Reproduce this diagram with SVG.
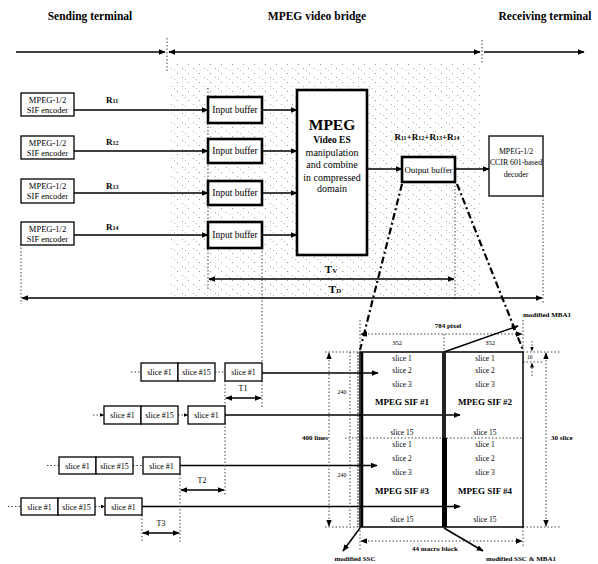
<svg xmlns="http://www.w3.org/2000/svg" width="598" height="564" viewBox="0 0 598 564">
<style>
text{font-family:"Liberation Serif","Times New Roman",serif;fill:#000}
.hd{font-size:11.5px;font-weight:bold;text-anchor:middle}
.c{text-anchor:middle}
.b{font-weight:bold}
.box{fill:#fff;stroke:#000;stroke-width:1.3}
.tbox{fill:#fff;stroke:#000;stroke-width:2.6}
.ln{stroke:#000;stroke-width:1.5;fill:none}
.dot{stroke:#444;stroke-width:1;stroke-dasharray:1.5 2;fill:none}
.dd{stroke:#000;stroke-width:2.2;stroke-dasharray:7 3 2 3;fill:none}
.sl{font-size:8px;text-anchor:middle}
.gt{font-size:7.5px;text-anchor:middle}
.sif{font-size:9px;font-weight:bold;text-anchor:middle}
.dim{font-size:7px;font-weight:bold}
</style>
<defs>
<marker id="ah" viewBox="0 0 10 10" refX="9" refY="5" markerWidth="7" markerHeight="7" orient="auto-start-reverse" markerUnits="userSpaceOnUse"><path d="M0,1 L10,5 L0,9 Z" fill="#000"/></marker>
<marker id="as" viewBox="0 0 10 10" refX="9" refY="5" markerWidth="5" markerHeight="5" orient="auto-start-reverse" markerUnits="userSpaceOnUse"><path d="M0,1 L10,5 L0,9 Z" fill="#000"/></marker>
<pattern id="stip" width="11" height="9" patternUnits="userSpaceOnUse"><rect x="1" y="1" width="1" height="1" fill="#999"/><rect x="6" y="5" width="1" height="1" fill="#aaa"/><rect x="9" y="7" width="1" height="1" fill="#bbb"/></pattern>
</defs>

<rect x="167" y="62" width="315" height="236" fill="url(#stip)"/>

<g id="headers">
<text class="hd" x="90" y="20">Sending terminal</text>
<text class="hd" x="317" y="20">MPEG video bridge</text>
<text class="hd" x="545" y="20">Receiving terminal</text>
</g>

<g id="connectors">
<line class="ln" x1="16" y1="52" x2="165" y2="52" marker-end="url(#ah)"/>
<line class="dot" x1="167" y1="38" x2="167" y2="72"/>
<line class="ln" x1="169" y1="52" x2="480" y2="52" marker-start="url(#ah)" marker-end="url(#ah)"/>
<line class="dot" x1="482" y1="40" x2="482" y2="64"/>
<line class="ln" x1="484" y1="52" x2="584" y2="52" marker-end="url(#ah)"/>

<line class="ln" x1="74" y1="110" x2="208" y2="110" marker-end="url(#ah)" stroke-width="2"/>
<line class="ln" x1="74" y1="151" x2="208" y2="151" marker-end="url(#ah)" stroke-width="2"/>
<line class="ln" x1="74" y1="193" x2="208" y2="193" marker-end="url(#ah)" stroke-width="2"/>
<line class="ln" x1="74" y1="235" x2="208" y2="235" marker-end="url(#ah)" stroke-width="2"/>
<line class="ln" x1="262" y1="110" x2="297" y2="110" marker-end="url(#ah)" stroke-width="2"/>
<line class="ln" x1="262" y1="151" x2="297" y2="151" marker-end="url(#ah)" stroke-width="2"/>
<line class="ln" x1="262" y1="193" x2="297" y2="193" marker-end="url(#ah)" stroke-width="2"/>
<line class="ln" x1="262" y1="235" x2="297" y2="235" marker-end="url(#ah)" stroke-width="2"/>
<line class="ln" x1="367" y1="169" x2="402" y2="169" marker-end="url(#ah)" stroke-width="2"/>
<line class="ln" x1="455" y1="169" x2="489" y2="169" marker-end="url(#ah)" stroke-width="2"/>

<line class="dot" x1="208" y1="88" x2="208" y2="290"/>
<line class="dot" x1="455" y1="182" x2="455" y2="300"/>
<line class="dot" x1="262" y1="248" x2="262" y2="408"/>
<line class="dot" x1="21" y1="244" x2="21" y2="304"/>
<line class="dot" x1="543" y1="196" x2="543" y2="304"/>
<line class="ln" x1="209" y1="279" x2="454" y2="279" marker-start="url(#ah)" marker-end="url(#ah)"/>
<line class="ln" x1="22" y1="298" x2="542" y2="298" marker-start="url(#ah)" marker-end="url(#ah)"/>

<line class="dd" x1="402" y1="184" x2="360" y2="350"/>
<line class="dd" x1="457" y1="184" x2="523" y2="350"/>

<line class="dot" x1="131" y1="372" x2="141" y2="372"/>
<line class="dot" x1="215" y1="372" x2="225" y2="372"/>
<line class="dot" x1="93" y1="415" x2="104" y2="415" marker-end="url(#as)"/>
<line class="dot" x1="178" y1="415" x2="188" y2="415" marker-end="url(#as)"/>
<line class="dot" x1="47" y1="465.5" x2="59" y2="465.5"/>
<line class="dot" x1="133" y1="465.5" x2="143" y2="465.5"/>
<line class="dot" x1="8" y1="506.5" x2="21" y2="506.5"/>
<line class="dot" x1="95" y1="506.5" x2="105" y2="506.5" marker-end="url(#as)"/>

<line class="ln" x1="262" y1="373" x2="378" y2="373" marker-end="url(#ah)"/>
<line class="ln" x1="225" y1="415" x2="460" y2="415" marker-end="url(#ah)"/>
<line class="ln" x1="180" y1="465.5" x2="377" y2="465.5" marker-end="url(#ah)"/>
<line class="ln" x1="142" y1="506.5" x2="460" y2="506.5" marker-end="url(#ah)"/>

<line class="dot" x1="225" y1="381" x2="225" y2="495"/>
<line class="dot" x1="180" y1="474" x2="180" y2="542"/>
<line class="dot" x1="142" y1="515" x2="142" y2="542"/>
<line class="ln" x1="226" y1="398" x2="261" y2="398" marker-start="url(#ah)" marker-end="url(#ah)"/>
<line class="ln" x1="181" y1="490" x2="224" y2="490" marker-start="url(#ah)" marker-end="url(#ah)"/>
<line class="ln" x1="143" y1="533" x2="179" y2="533" marker-start="url(#ah)" marker-end="url(#ah)"/>

<line class="dot" x1="360" y1="320" x2="360" y2="352"/>
<line class="dot" x1="523" y1="320" x2="523" y2="352"/>
<line class="dot" x1="444" y1="334" x2="444" y2="352"/>
<line class="dot" x1="361" y1="334" x2="522" y2="334" marker-start="url(#ah)" marker-end="url(#ah)"/>
<line class="ln" x1="444" y1="352" x2="518" y2="326" marker-end="url(#ah)"/>

<line class="dot" x1="325" y1="352" x2="360" y2="352"/>
<line class="dot" x1="325" y1="527" x2="360" y2="527"/>
<line class="dot" x1="329" y1="353" x2="329" y2="526" marker-start="url(#ah)" marker-end="url(#ah)"/>
<line class="dot" x1="350" y1="352" x2="350" y2="527"/>
<line class="dot" x1="345" y1="438" x2="523" y2="438"/>

<line class="dot" x1="523" y1="352" x2="560" y2="352"/>
<line class="dot" x1="523" y1="527" x2="560" y2="527"/>
<line class="dot" x1="546" y1="353" x2="546" y2="526" marker-start="url(#ah)" marker-end="url(#ah)"/>
<line class="dot" x1="532" y1="341" x2="532" y2="351" marker-end="url(#as)"/>
<line class="dot" x1="532" y1="376" x2="532" y2="363" marker-end="url(#as)"/>
<line class="dot" x1="523" y1="362" x2="542" y2="362"/>

<line class="dot" x1="360" y1="527" x2="360" y2="550"/>
<line class="dot" x1="523" y1="527" x2="523" y2="546"/>
<line class="dot" x1="361" y1="541" x2="522" y2="541" marker-start="url(#ah)" marker-end="url(#ah)"/>
<line class="ln" x1="360" y1="528" x2="343" y2="551" marker-end="url(#ah)"/>
<line class="ln" x1="444" y1="528" x2="483" y2="551" marker-end="url(#ah)"/>
</g>

<g id="encoder1"><rect class="box" x="21" y="93" width="53" height="23"/><text class="c" font-size="8.5" x="47.5" y="103">MPEG-1/2</text><text class="c" font-size="8.5" x="47.5" y="113">SIF encoder</text></g>
<g id="encoder2"><rect class="box" x="21" y="136" width="53" height="23"/><text class="c" font-size="8.5" x="47.5" y="146">MPEG-1/2</text><text class="c" font-size="8.5" x="47.5" y="156">SIF encoder</text></g>
<g id="encoder3"><rect class="box" x="21" y="179" width="53" height="24"/><text class="c" font-size="8.5" x="47.5" y="189">MPEG-1/2</text><text class="c" font-size="8.5" x="47.5" y="199">SIF encoder</text></g>
<g id="encoder4"><rect class="box" x="21" y="222" width="53" height="23"/><text class="c" font-size="8.5" x="47.5" y="232">MPEG-1/2</text><text class="c" font-size="8.5" x="47.5" y="242">SIF encoder</text></g>

<g id="rates" font-size="9" font-weight="bold">
<text x="106" y="103">R<tspan font-size="6">11</tspan></text>
<text x="106" y="145">R<tspan font-size="6">12</tspan></text>
<text x="106" y="189">R<tspan font-size="6">13</tspan></text>
<text x="106" y="230">R<tspan font-size="6">14</tspan></text>
<text x="427" y="140" class="c">R<tspan font-size="6">11</tspan>+R<tspan font-size="6">12</tspan>+R<tspan font-size="6">13</tspan>+R<tspan font-size="6">14</tspan></text>
</g>

<g id="inbuf1"><rect class="tbox" x="208" y="97" width="54" height="26"/><text class="c" font-size="9.5" x="235" y="113">Input buffer</text></g>
<g id="inbuf2"><rect class="tbox" x="208" y="139" width="54" height="24"/><text class="c" font-size="9.5" x="235" y="154">Input buffer</text></g>
<g id="inbuf3"><rect class="tbox" x="208" y="181" width="54" height="24"/><text class="c" font-size="9.5" x="235" y="196">Input buffer</text></g>
<g id="inbuf4"><rect class="tbox" x="208" y="222" width="54" height="26"/><text class="c" font-size="9.5" x="235" y="238">Input buffer</text></g>

<g id="mpeg"><rect class="tbox" x="297" y="90" width="70" height="165" stroke-width="3"/>
<text class="c b" font-size="15.5" x="332" y="130">MPEG</text>
<text class="c b" font-size="9.5" x="332" y="143">Video ES</text>
<text class="c" font-size="10" x="332" y="155.5">manipulation</text>
<text class="c" font-size="10" x="332" y="168">and combine</text>
<text class="c" font-size="10" x="332" y="180.5">in compressed</text>
<text class="c" font-size="10" x="332" y="192">domain</text>
</g>

<g id="outbuf"><rect class="tbox" x="402" y="157" width="53" height="25"/><text class="c" font-size="8.8" x="428.5" y="172.5">Output buffer</text></g>

<g id="decoder"><rect class="box" x="489" y="136" width="54" height="60"/>
<text class="c" font-size="7.8" fill="#333" x="516" y="154">MPEG-1/2</text>
<text class="c" font-size="7.8" fill="#333" x="516" y="165">CCIR 601-based</text>
<text class="c" font-size="7.8" fill="#333" x="516" y="177">decoder</text>
</g>

<g id="delays" font-weight="bold" font-size="11">
<text class="c" x="331" y="273">T<tspan font-size="7">V</tspan></text>
<text class="c" x="335" y="293">T<tspan font-size="7">D</tspan></text>
</g>

<g id="row1"><rect class="box" x="141" y="363" width="37" height="18"/><rect class="box" x="178" y="363" width="37" height="18"/><rect class="box" x="225" y="363" width="37" height="18"/>
<text class="sl" x="159.5" y="375">slice #1</text><text class="sl" x="196.5" y="375">slice #15</text><text class="sl" x="243.5" y="375">slice #1</text></g>
<g id="row2"><rect class="box" x="104" y="406" width="37" height="18"/><rect class="box" x="141" y="406" width="37" height="18"/><rect class="box" x="188" y="406" width="37" height="18"/>
<text class="sl" x="122.5" y="418">slice #1</text><text class="sl" x="159.5" y="418">slice #15</text><text class="sl" x="206.5" y="418">slice #1</text></g>
<g id="row3"><rect class="box" x="59" y="457" width="37" height="17"/><rect class="box" x="96" y="457" width="37" height="17"/><rect class="box" x="143" y="457" width="37" height="17"/>
<text class="sl" x="77.5" y="468.5">slice #1</text><text class="sl" x="114.5" y="468.5">slice #15</text><text class="sl" x="161.5" y="468.5">slice #1</text></g>
<g id="row4"><rect class="box" x="21" y="498" width="37" height="17"/><rect class="box" x="58" y="498" width="37" height="17"/><rect class="box" x="105" y="498" width="37" height="17"/>
<text class="sl" x="39.5" y="509.5">slice #1</text><text class="sl" x="76.5" y="509.5">slice #15</text><text class="sl" x="123.5" y="509.5">slice #1</text></g>

<g id="tlabels" font-size="8">
<text class="c" x="243" y="391">T1</text>
<text class="c" x="202" y="483">T2</text>
<text class="c" x="161" y="526">T3</text>
</g>

<g id="grid">
<rect x="360" y="352" width="163" height="175" fill="none" stroke="#000" stroke-width="1.5"/>
<line x1="362" y1="352" x2="362" y2="527" stroke="#000" stroke-width="2.5"/>
<line x1="358" y1="352" x2="358" y2="527" stroke="#000" stroke-width="0.8" stroke-dasharray="2 1"/>
<rect x="442" y="352" width="4" height="175" fill="#222"/>
<rect x="442" y="438" width="5" height="89" fill="#000"/>
<text class="gt" x="402" y="361">slice 1</text><text class="gt" x="402" y="373">slice 2</text><text class="gt" x="402" y="387">slice 3</text>
<text class="sif" x="402" y="405">MPEG SIF #1</text><text class="gt" x="402" y="435">slice 15</text>
<text class="gt" x="485" y="361">slice 1</text><text class="gt" x="485" y="373">slice 2</text><text class="gt" x="485" y="387">slice 3</text>
<text class="sif" x="485" y="405">MPEG SIF #2</text><text class="gt" x="485" y="435">slice 15</text>
<text class="gt" x="402" y="447">slice 1</text><text class="gt" x="402" y="461">slice 2</text><text class="gt" x="402" y="475">slice 3</text>
<text class="sif" x="402" y="494">MPEG SIF #3</text><text class="gt" x="402" y="522">slice 15</text>
<text class="gt" x="485" y="447">slice 1</text><text class="gt" x="485" y="461">slice 2</text><text class="gt" x="485" y="475">slice 3</text>
<text class="sif" x="485" y="494">MPEG SIF #4</text><text class="gt" x="485" y="522">slice 15</text>
</g>

<g id="dimlabels">
<text class="dim c" x="448" y="328">784 pixel</text>
<text class="c" font-size="6.5" x="397" y="345">352</text>
<text class="c" font-size="6.5" x="490" y="345">352</text>
<text class="dim" font-size="6.5" x="302" y="440">400 lines</text>
<text class="c" font-size="6" x="342" y="394">240</text>
<text class="c" font-size="6" x="342" y="477">240</text>
<text class="dim" x="551" y="440">30 slice</text>
<text font-size="5.5" x="527" y="359">16</text>
<text class="dim c" font-size="7.5" x="435" y="551">44 macro block</text>
<text class="dim" font-size="8.5" x="523" y="317">modified MBA1</text>
<text class="dim c" font-size="8.5" x="355" y="561">modified SSC</text>
<text class="dim c" font-size="8.5" x="521" y="561">modified SSC &amp; MBA1</text>
</g>
</svg>
